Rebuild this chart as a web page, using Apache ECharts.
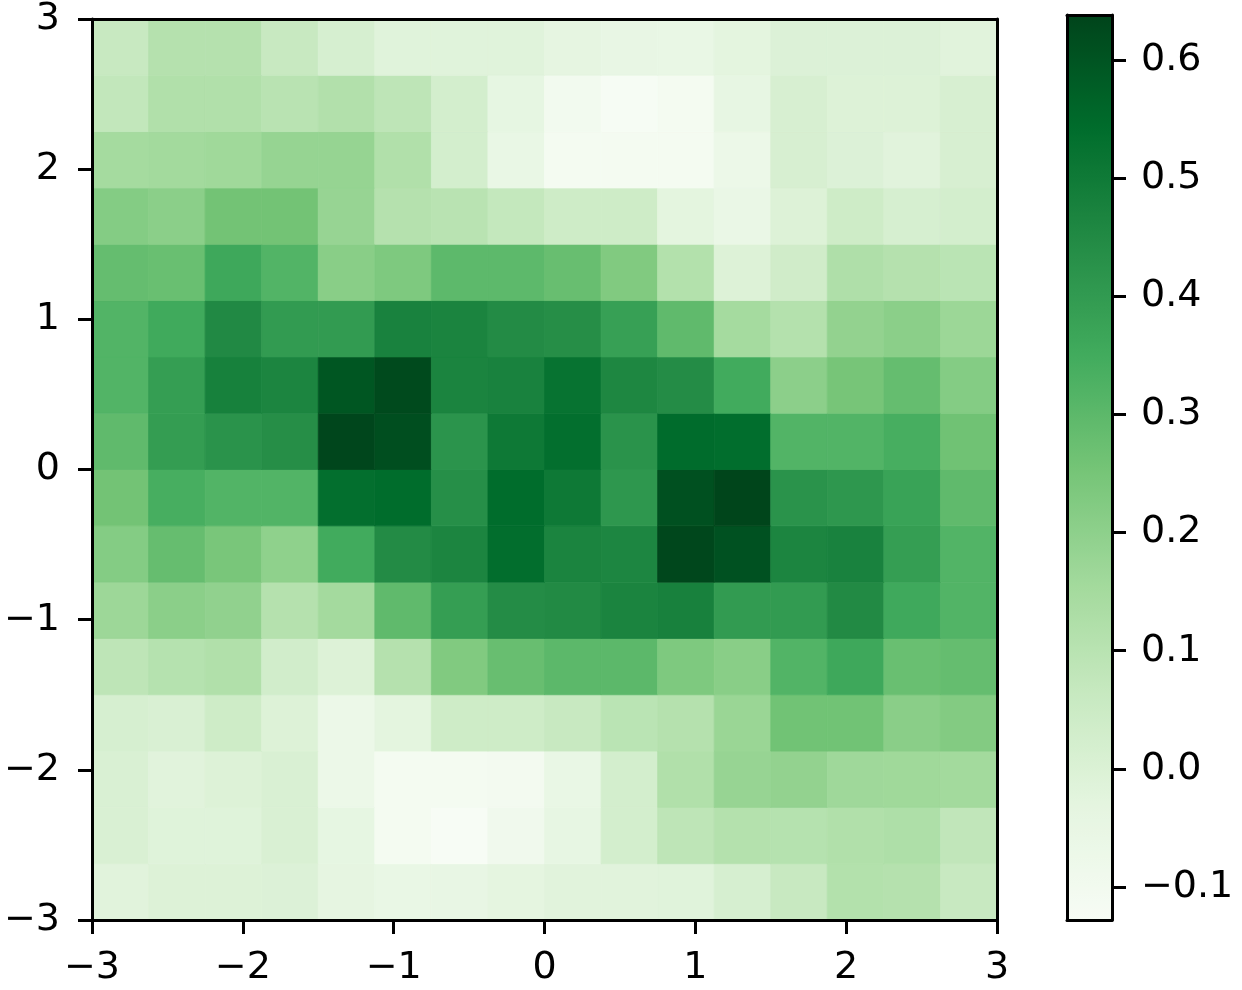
<!DOCTYPE html>
<html><head><meta charset="utf-8">
<script src="https://cdn.jsdelivr.net/npm/echarts@6/dist/echarts.min.js"></script>
<style>html,body{margin:0;padding:0;background:#fff}#c{width:1242px;height:990px}</style>
</head><body><div id="c"></div><script>
// Axis ticks
const xTicks = [-3, -2, -1, 0, 1, 2, 3];
const yTicks = [-3, -2, -1, 0, 1, 2, 3];
const cbarTicks = [-0.1, 0.0, 0.1, 0.2, 0.3, 0.4, 0.5, 0.6];
const cbarMin = -0.128, cbarMax = 0.638;
// matplotlib "Greens" colormap stops
const greens = ['#f7fcf5', '#e5f5e0', '#c7e9c0', '#a1d99b', '#74c476', '#41ab5d', '#238b45', '#006d2c', '#00441b'];

// Cell values, one array per row (row0 = bottom, y in [-3,-2.625]; row15 = top)
const row15 = [0.06, 0.11, 0.11, 0.06, 0.016, -0.016, -0.016, -0.016, -0.035, -0.05, -0.055, -0.03, -0.004, -0.004, -0.004, -0.02];
const row14 = [0.077, 0.12, 0.12, 0.10, 0.117, 0.087, 0.026, -0.04, -0.10, -0.125, -0.11, -0.045, 0.013, -0.006, -0.006, 0.013];
const row13 = [0.149, 0.154, 0.161, 0.183, 0.183, 0.12, 0.026, -0.055, -0.11, -0.11, -0.11, -0.07, 0.013, -0.004, -0.02, 0.013];
const row12 = [0.22, 0.206, 0.257, 0.257, 0.18, 0.11, 0.10, 0.07, 0.042, 0.042, -0.03, -0.06, -0.006, 0.042, 0.016, 0.026];
const row11 = [0.283, 0.276, 0.36, 0.318, 0.21, 0.233, 0.298, 0.298, 0.278, 0.228, 0.114, -0.006, 0.036, 0.124, 0.11, 0.095];
const row10 = [0.318, 0.353, 0.452, 0.399, 0.399, 0.474, 0.468, 0.447, 0.438, 0.383, 0.292, 0.149, 0.112, 0.19, 0.206, 0.17];
const row9  = [0.318, 0.39, 0.48, 0.465, 0.596, 0.624, 0.468, 0.474, 0.523, 0.46, 0.444, 0.35, 0.204, 0.249, 0.283, 0.22];
const row8  = [0.292, 0.393, 0.424, 0.438, 0.633, 0.614, 0.42, 0.504, 0.535, 0.424, 0.545, 0.54, 0.318, 0.318, 0.34, 0.262];
const row7  = [0.257, 0.34, 0.318, 0.318, 0.535, 0.542, 0.436, 0.542, 0.504, 0.412, 0.61, 0.636, 0.424, 0.412, 0.376, 0.292];
const row6  = [0.22, 0.281, 0.245, 0.198, 0.351, 0.447, 0.465, 0.538, 0.468, 0.463, 0.63, 0.607, 0.465, 0.474, 0.39, 0.318];
const row5  = [0.168, 0.206, 0.194, 0.11, 0.152, 0.292, 0.39, 0.444, 0.45, 0.468, 0.477, 0.399, 0.399, 0.45, 0.356, 0.318];
const row4  = [0.087, 0.108, 0.12, 0.03, -0.006, 0.11, 0.228, 0.278, 0.30, 0.30, 0.233, 0.21, 0.318, 0.36, 0.276, 0.283];
const row3  = [0.016, 0.006, 0.042, -0.006, -0.07, -0.03, 0.042, 0.042, 0.06, 0.095, 0.11, 0.175, 0.26, 0.26, 0.208, 0.223];
const row2  = [0.006, -0.02, -0.006, 0.006, -0.07, -0.11, -0.11, -0.105, -0.055, 0.026, 0.12, 0.18, 0.19, 0.163, 0.161, 0.154];
const row1  = [0.006, -0.013, -0.013, 0.006, -0.04, -0.11, -0.127, -0.09, -0.045, 0.026, 0.087, 0.112, 0.108, 0.12, 0.126, 0.079];
const row0  = [-0.02, -0.006, -0.006, -0.004, -0.035, -0.055, -0.05, -0.032, -0.02, -0.02, -0.016, 0.016, 0.06, 0.114, 0.11, 0.06];

const rows = [row0, row1, row2, row3, row4, row5, row6, row7, row8, row9, row10, row11, row12, row13, row14, row15];
const lo = -3, hi = 3, nCells = rows.length, step = (hi - lo) / nCells;
const data = [];
rows.forEach((row, i) => row.forEach((v, j) => data.push([lo + j * step, lo + i * step, v])));

const FONT = 'DejaVu Sans';
const FS = 38;
const minus = s => String(s).replace('-', '\u2212');
const lineStyle = { color: '#000', width: 3 };

const chart = echarts.init(document.getElementById('c'), null, { renderer: 'canvas' });
chart.setOption({
  animation: false,
  backgroundColor: '#fff',
  grid: [
    { left: 92, top: 15, width: 905, height: 905 },
    { left: 1067, top: 15, width: 45, height: 905 }
  ],
  xAxis: [
    { gridIndex: 0, type: 'value', position: 'bottom', min: lo, max: hi, interval: 1, z: 10,
      axisLine: { show: true, onZero: false, lineStyle },
      axisTick: { show: true, length: 14, lineStyle, customValues: xTicks },
      axisLabel: { show: true, margin: 29, color: '#000', fontFamily: FONT, fontSize: FS, customValues: xTicks, formatter: v => minus(v) },
      splitLine: { show: false } },
    { gridIndex: 0, type: 'value', position: 'top', min: lo, max: hi, z: 10,
      axisLine: { show: true, onZero: false, lineStyle }, axisTick: { show: false }, axisLabel: { show: false }, splitLine: { show: false } },
    { gridIndex: 1, type: 'value', position: 'bottom', min: 0, max: 1, z: 10,
      axisLine: { show: true, onZero: false, lineStyle }, axisTick: { show: false }, axisLabel: { show: false }, splitLine: { show: false } },
    { gridIndex: 1, type: 'value', position: 'top', min: 0, max: 1, z: 10,
      axisLine: { show: true, onZero: false, lineStyle }, axisTick: { show: false }, axisLabel: { show: false }, splitLine: { show: false } }
  ],
  yAxis: [
    { gridIndex: 0, type: 'value', position: 'left', min: lo, max: hi, interval: 1, z: 10,
      axisLine: { show: true, onZero: false, lineStyle },
      axisTick: { show: true, length: 14, lineStyle, customValues: yTicks },
      axisLabel: { show: true, margin: 32, color: '#000', fontFamily: FONT, fontSize: FS, customValues: yTicks, formatter: v => minus(v) },
      splitLine: { show: false } },
    { gridIndex: 0, type: 'value', position: 'right', min: lo, max: hi, z: 10,
      axisLine: { show: true, onZero: false, lineStyle }, axisTick: { show: false }, axisLabel: { show: false }, splitLine: { show: false } },
    { gridIndex: 1, type: 'value', position: 'right', min: cbarMin, max: cbarMax, z: 10,
      axisLine: { show: true, onZero: false, lineStyle },
      axisTick: { show: true, length: 14, lineStyle, customValues: cbarTicks },
      axisLabel: { show: true, margin: 29, color: '#000', fontFamily: FONT, fontSize: FS, customValues: cbarTicks, formatter: v => minus(Number(v).toFixed(1)) },
      splitLine: { show: false } },
    { gridIndex: 1, type: 'value', position: 'left', min: cbarMin, max: cbarMax, z: 10,
      axisLine: { show: true, onZero: false, lineStyle }, axisTick: { show: false }, axisLabel: { show: false }, splitLine: { show: false } }
  ],
  visualMap: {
    type: 'continuous', min: cbarMin, max: cbarMax, dimension: 2, seriesIndex: 0,
    inRange: { color: greens }, calculable: false, hoverLink: false, realtime: false,
    orient: 'vertical', left: 1067, top: 15, itemWidth: 45, itemHeight: 905, padding: 0,
    text: null, showLabel: false, z: 2
  },
  series: [{
    type: 'custom', coordinateSystem: 'cartesian2d', xAxisIndex: 0, yAxisIndex: 0,
    encode: { x: 0, y: 1 }, dimensions: ['x', 'y', 'v'],
    data: data,
    renderItem: (params, api) => {
      const x0 = api.value(0), y0 = api.value(1);
      const p0 = api.coord([x0, y0]);
      const p1 = api.coord([x0 + step, y0 + step]);
      const c = api.visual('color');
      return { type: 'rect',
        shape: { x: p0[0], y: p1[1], width: p1[0] - p0[0], height: p0[1] - p1[1] },
        style: { fill: c, stroke: c, lineWidth: 0.8 } };
    }
  }]
});
</script></body></html>
